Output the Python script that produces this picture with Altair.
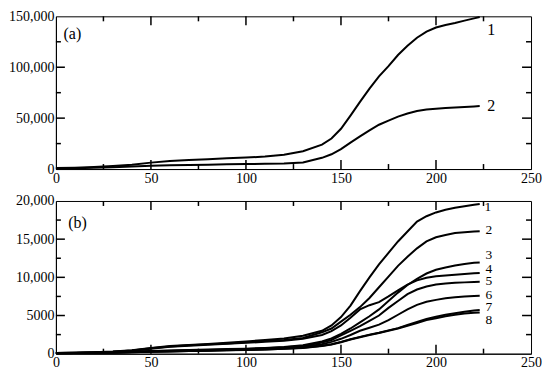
import altair as alt
import pandas as pd

# ---- data ----
days = [0, 10, 20, 30, 40, 50, 60, 70, 80, 90, 100, 110, 120, 130, 140, 145,
        150, 155, 160, 165, 170, 175, 180, 185, 190, 195, 200, 205, 210, 215, 220, 223]

a1 = [1000, 1300, 1900, 2900, 4300, 6300, 7800, 8800, 9700, 10500, 11300, 12200, 14000, 17500, 24000, 30000,
      39500, 52500, 66000, 79000, 91000, 101000, 112000, 121000, 129000, 135000, 139000, 141500, 143500, 145800, 148000, 149300]
a2 = [500, 800, 1200, 1800, 2500, 3200, 3700, 4000, 4300, 4600, 4900, 5100, 5400, 6500, 11000, 14500,
      19500, 26000, 32000, 38000, 43500, 47500, 51500, 54500, 57000, 58500, 59300, 60000, 60500, 61000, 61500, 61800]

b1 = [100, 130, 180, 280, 450, 750, 1000, 1150, 1280, 1420, 1600, 1800, 2000, 2350, 3000, 3700,
      4800, 6300, 8200, 10000, 11700, 13200, 14700, 16000, 17300, 18000, 18500, 18850, 19100, 19300, 19500, 19600]
b2 = [100, 130, 170, 260, 420, 700, 950, 1100, 1220, 1350, 1500, 1650, 1800, 2050, 2800, 3300,
      4200, 5100, 6100, 7300, 8700, 10100, 11500, 12700, 13800, 14700, 15250, 15550, 15800, 15900, 16000, 16050]
b3 = [80, 100, 130, 180, 250, 340, 420, 480, 540, 600, 660, 750, 880, 1100, 1600, 2000,
      2600, 3300, 4100, 4900, 5800, 6900, 8000, 9000, 9800, 10500, 11000, 11300, 11550, 11750, 11900, 11950]
b4 = [100, 120, 160, 250, 400, 650, 900, 1050, 1170, 1300, 1420, 1550, 1700, 1950, 2450, 2950,
      3700, 4700, 5800, 6350, 6750, 7500, 8300, 9050, 9600, 9950, 10150, 10250, 10350, 10450, 10530, 10580]
b5 = [80, 100, 120, 170, 230, 310, 380, 440, 500, 560, 620, 700, 830, 1020, 1450, 1800,
      2400, 3000, 3600, 4300, 5000, 6000, 6900, 7800, 8400, 8800, 9050, 9200, 9280, 9340, 9400, 9420]
b6 = [70, 90, 110, 150, 210, 280, 340, 400, 450, 500, 550, 620, 730, 900, 1250, 1550,
      1950, 2450, 3000, 3400, 3800, 4400, 5100, 5800, 6400, 6800, 7050, 7250, 7380, 7480, 7550, 7580]
b7 = [60, 80, 100, 140, 190, 250, 300, 350, 400, 450, 500, 560, 650, 780, 1050, 1250,
      1550, 1900, 2200, 2500, 2750, 3050, 3350, 3750, 4150, 4550, 4850, 5100, 5300, 5500, 5650, 5710]
b8 = [60, 80, 100, 130, 180, 240, 290, 340, 390, 440, 490, 550, 640, 760, 1000, 1200,
      1500, 1850, 2150, 2450, 2700, 3000, 3300, 3650, 4000, 4400, 4650, 4900, 5100, 5250, 5350, 5400]

# series end labels
a_label_text = ["1", "2"]
a_label_x = [227, 227]
a_label_y = [137000, 61500]
b_label_text = ["1", "2", "3", "4", "5", "6", "7", "8"]
b_label_x = [225.5, 226, 226, 226, 226, 226, 226, 226]
b_label_y = [19250, 16150, 12950, 11050, 9500, 7650, 6050, 4450]

# axes
x_major = [0, 50, 100, 150, 200, 250]
x_minor = [25, 75, 125, 175, 225]
a_y_major = [0, 50000, 100000, 150000]
a_y_minor = [25000, 75000, 125000]
b_y_major = [0, 5000, 10000, 15000, 20000]
b_y_minor = [2500, 7500, 12500, 17500]

FONT = "Liberation Serif"
W, H = 476, 153
XMAX = 250


def long_df(series):
    rows = []
    for name, vals in series.items():
        for d, v in zip(days, vals):
            rows.append({"day": d, "value": v, "series": name})
    return pd.DataFrame(rows)


def panel(series, ymax, y_major, y_minor, lab_text, lab_x, lab_y, lab_size, tag, tag_x, tag_y):
    xs = alt.Scale(domain=[0, XMAX], nice=False, zero=False)
    ys = alt.Scale(domain=[0, ymax], nice=False)
    df = long_df(series)
    x_axis = alt.Axis(values=x_major, title=None, labelFlush=False, labelOverlap=False,
                      labelPadding=2, labelFont=FONT, labelFontSize=14, labelColor="black")
    y_axis = alt.Axis(values=y_major, title=None, labelFlush=False, labelOverlap=False,
                      labelPadding=2, labelFont=FONT, labelFontSize=14, labelColor="black",
                      labelExpr="datum.value >= 10000 ? format(datum.value, ',') : format(datum.value, 'd')")
    lines = alt.Chart(df).mark_line(color="black", strokeWidth=2).encode(
        x=alt.X("day:Q", scale=xs, axis=x_axis),
        y=alt.Y("value:Q", scale=ys, axis=y_axis),
        detail="series:N",
    )
    # inward tick marks (major 9px, minor 5px)
    ymaj = ymax * 9 / H
    ymin = ymax * 5 / H
    xmaj = XMAX * 9 / W
    xmin = XMAX * 5 / W
    vrows = []
    for vals, ln in [(x_major[1:-1], ymaj), (x_minor, ymin)]:
        for v in vals:
            vrows.append({"x": v, "y0": 0, "y1": ln})
            vrows.append({"x": v, "y0": ymax, "y1": ymax - ln})
    hrows = []
    for vals, ln in [(y_major[1:-1], xmaj), (y_minor, xmin)]:
        for v in vals:
            hrows.append({"y": v, "x0": 0, "x1": ln})
            hrows.append({"y": v, "x0": XMAX, "x1": XMAX - ln})
    vticks = alt.Chart(pd.DataFrame(vrows)).mark_rule(color="black", strokeWidth=1.5).encode(
        x=alt.X("x:Q", scale=xs, axis=x_axis),
        y=alt.Y("y0:Q", scale=ys, axis=y_axis), y2="y1:Q")
    hticks = alt.Chart(pd.DataFrame(hrows)).mark_rule(color="black", strokeWidth=1.5).encode(
        y=alt.Y("y:Q", scale=ys, axis=y_axis),
        x=alt.X("x0:Q", scale=xs, axis=x_axis), x2="x1:Q")
    ldf = pd.DataFrame({"x": lab_x, "y": lab_y, "t": lab_text})
    labels = alt.Chart(ldf).mark_text(font=FONT, fontSize=lab_size, align="left",
                                      baseline="middle", color="black").encode(
        x=alt.X("x:Q", scale=xs, axis=x_axis), y=alt.Y("y:Q", scale=ys, axis=y_axis), text="t:N")
    tdf = pd.DataFrame({"x": [tag_x], "y": [tag_y], "t": [tag]})
    tagmark = alt.Chart(tdf).mark_text(font=FONT, fontSize=16, align="left",
                                       baseline="middle", color="black").encode(
        x=alt.X("x:Q", scale=xs, axis=x_axis), y=alt.Y("y:Q", scale=ys, axis=y_axis), text="t:N")
    return alt.layer(lines, vticks, hticks, labels, tagmark).properties(width=W, height=H)


pa = panel({"1": a1, "2": a2}, 150000, a_y_major, a_y_minor,
           a_label_text, a_label_x, a_label_y, 16, "(a)", 4, 133000)
pb = panel({"1": b1, "2": b2, "3": b3, "4": b4, "5": b5, "6": b6, "7": b7, "8": b8},
           20000, b_y_major, b_y_minor, b_label_text, b_label_x, b_label_y, 13.5, "(b)", 6.5, 17100)

chart = alt.vconcat(pa, pb, spacing=7).properties(
    padding={"left": 0, "top": 0, "right": 0, "bottom": 0}
).configure_view(stroke="black", strokeWidth=1).configure_axis(
    ticks=False, grid=False, domainColor="black", domainWidth=1, labelOverlap=False,
    labelFont=FONT, labelFontSize=14, labelColor="black"
)

chart.save("out.html", embed_options={"renderer": "svg", "actions": False})
